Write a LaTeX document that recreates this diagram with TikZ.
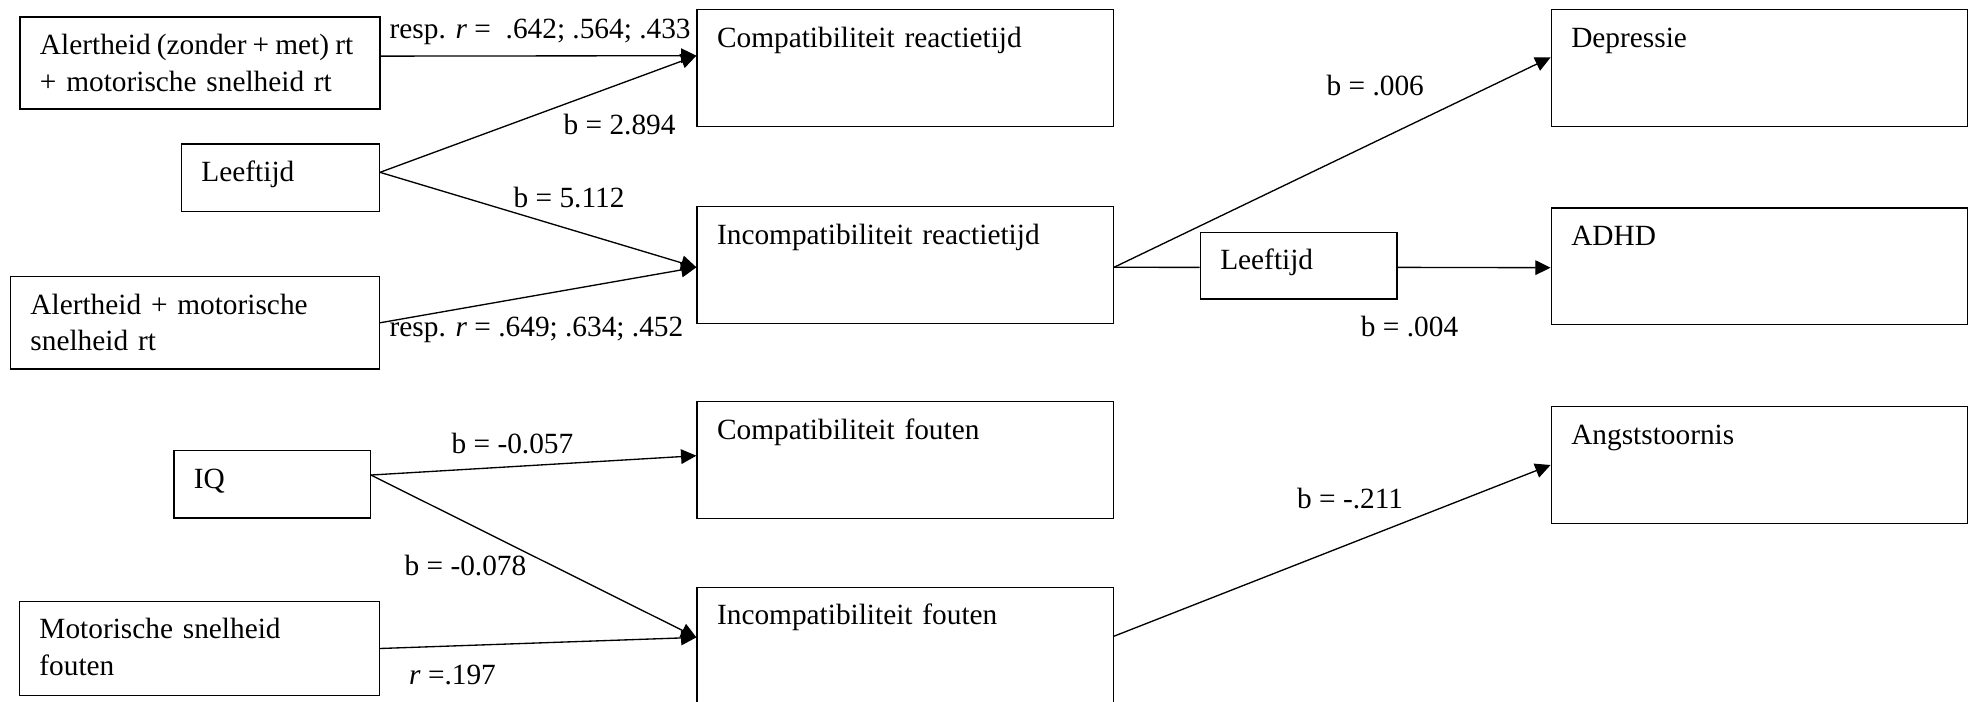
\documentclass[tikz,border=0pt]{standalone}
\usepackage{fontspec}
\setmainfont{Liberation Serif}
\usetikzlibrary{arrows.meta,calc}

\tikzset{every picture/.style={line width=1pt}}
\tikzset{
  box/.style 2 args={draw, anchor=north west, inner xsep=15pt, inner ysep=0pt, align=left,
    text width=#1, text height=28.2pt, text depth=#2},
  lbl/.style={anchor=base west, inner sep=0pt},
  arr/.style={-{Triangle[length=11.5pt,width=11pt]}},
}

\begin{document}
\begin{tikzpicture}[x=0.75pt,y=0.75pt,yscale=-1,xscale=1,font=\fontsize{22}{27.5}\selectfont]
\useasboundingbox (0,0) rectangle (1968,702);

%Shape: Rectangle
\node [box={239.7pt}{41pt}, line width=1.5pt] (alertA) at (19,16) {\mbox{\spaceskip=0.21em Alertheid (zonder + met) rt}\\+ motorische snelheid rt};
%Shape: Rectangle
\node [box={118.4pt}{22.3pt}] (ageA) at (180.8,143.3) {Leeftijd};
%Shape: Rectangle
\node [box={246.6pt}{41pt}] (alertB) at (9.8,276) {Alertheid + motorische\\snelheid rt};
%Shape: Rectangle
\node [box={117.3pt}{22.3pt}] (iq) at (173.2,450) {IQ};
%Shape: Rectangle
\node [box={239.9pt}{42.5pt}] (motor) at (18.8,600.7) {Motorische snelheid\\fouten};
%Shape: Rectangle
\node [box={282.2pt}{59.3pt}] (comprt) at (696.4,9) {Compatibiliteit reactietijd};
%Shape: Rectangle
\node [box={282.2pt}{59.3pt}] (incrt) at (696.4,206) {Incompatibiliteit reactietijd};
%Shape: Rectangle
\node [box={282.2pt}{59.3pt}] (compf) at (696.4,401) {Compatibiliteit fouten};
%Shape: Rectangle
\node [box={282.2pt}{59.3pt}] (incf) at (696.4,586.7) {Incompatibiliteit fouten};
%Shape: Rectangle
\node [box={117.5pt}{21.9pt}] (ageB) at (1199.6,231.7) {Leeftijd};
%Shape: Rectangle
\node [box={282.2pt}{59.3pt}] (dep) at (1550.6,9) {Depressie};
%Shape: Rectangle
\node [box={282.2pt}{59.3pt}] (adhd) at (1550.6,207.3) {ADHD};
%Shape: Rectangle
\node [box={282.2pt}{59.3pt}] (angst) at (1550.6,406) {Angststoornis};

%Straight Lines
\draw [arr] ($(alertA.east)+(0,-7)$) -- ($(comprt.west)+(0,-12.3)$);
%Straight Lines
\draw [arr] ($(ageA.east)+(0,-5.3)$) -- ($(comprt.west)+(0,-12.3)$);
%Straight Lines
\draw [arr] ($(ageA.east)+(0,-5.3)$) -- ($(incrt.west)+(0,2.3)$);
%Straight Lines
\draw [arr] (alertB.east) -- ($(incrt.west)+(0,2.3)$);
%Straight Lines
\draw ($(incrt.east)+(0,2.3)$) -- ($(ageB.west)+(0,1.6)$);
%Straight Lines
\draw [arr] ($(incrt.east)+(0,2.3)$) -- ($(dep.west)+(0,-10.6)$);
%Straight Lines
\draw [arr] ($(ageB.east)+(0,1.6)$) -- ($(adhd.west)+(0,1.4)$);
%Straight Lines
\draw [arr] ($(iq.east)+(0,-9.3)$) -- ($(compf.west)+(0,-4.3)$);
%Straight Lines
\draw [arr] ($(iq.east)+(0,-9.3)$) -- ($(incf.west)+(0,-8.3)$);
%Straight Lines
\draw [arr] (motor.east) -- ($(incf.west)+(0,-8.3)$);
%Straight Lines
\draw [arr] ($(incf.east)+(0,-9.5)$) -- (angst.west);

% Text Node
\node [lbl] (rA) at (389,39) {resp. \textit{r} =\ \ .642; .564; .433};
% Text Node
\node [lbl] (bA) at (563,134.3) {b = 2.894};
% Text Node
\node [lbl] (bB) at (513,207.3) {b = 5.112};
% Text Node
\node [lbl] (rB) at (389,336.7) {resp. \textit{r} = .649; .634; .452};
% Text Node
\node [lbl] (bC) at (1326,95.7) {b = .006};
% Text Node
\node [lbl] (bD) at (1360.3,336.7) {b = .004};
% Text Node
\node [lbl] (bE) at (451,453.3) {b = -0.057};
% Text Node
\node [lbl] (bF) at (404,575) {b = -0.078};
% Text Node
\node [lbl] (rC) at (408.5,684) {\textit{r} =.197};
% Text Node
\node [lbl] (bG) at (1296.5,508.3) {b = -.211};

\end{tikzpicture}
\end{document}
